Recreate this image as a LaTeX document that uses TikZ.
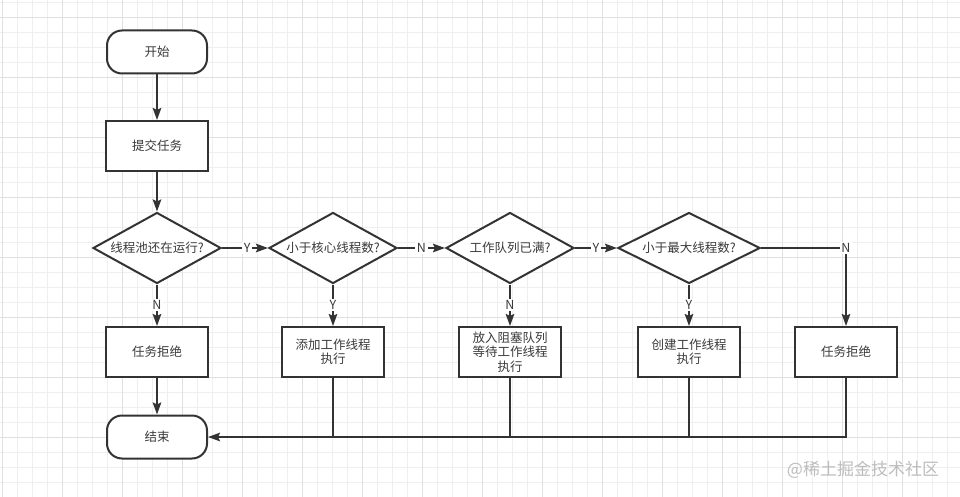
\documentclass[tikz,border=0pt]{standalone}
\usepackage{fontspec}
\setmainfont{Noto Sans CJK SC}
\usepackage{xcolor}
\usetikzlibrary{shapes.geometric,arrows.meta}
\definecolor{linecol}{HTML}{333333}
\definecolor{textcol}{HTML}{3A3A3A}
\definecolor{gridminor}{HTML}{EFEFEF}
\definecolor{gridmajor}{HTML}{E0E0E0}
\definecolor{markcol}{HTML}{BDBDBD}

\begin{document}
\begin{tikzpicture}[x=1pt,y=-1pt,
  every node/.style={font=\fontsize{12.5}{14.5}\selectfont,text=textcol},
  box/.style={draw=linecol,line width=2pt,fill=white,minimum width=102pt,minimum height=50pt,inner sep=0pt,align=center},
  term/.style={box,rounded corners=15pt,minimum width=100pt,minimum height=43pt},
  dec/.style={draw=linecol,line width=2pt,fill=white,diamond,minimum width=128pt,minimum height=71pt,inner sep=0pt},
  lbl/.style={fill=white,inner sep=1.5pt},
  arr/.style={draw=linecol,line width=2pt,-{Stealth[length=12pt,width=8.5pt,inset=2pt]}},
  lin/.style={draw=linecol,line width=2pt}]
  \useasboundingbox (0,0) rectangle (960,497);
  \fill[white] (0,0) rectangle (960,497);
  %
  \foreach \x in {2.3,17.3,...,960} \draw[gridminor,line width=1pt] (\x,0) -- (\x,497);
  \foreach \y in {2.3,17.3,...,497} \draw[gridminor,line width=1pt] (0,\y) -- (960,\y);
  \foreach \x in {2.3,62.3,...,960} \draw[gridmajor,line width=1pt] (\x,0) -- (\x,497);
  \foreach \y in {17.3,77.3,...,497} \draw[gridmajor,line width=1pt] (0,\y) -- (960,\y);
  %
  \node[term] (start) at (157,52) {开始};
  \node[box] (submit) at (157,146) {提交任务};
  %
  \node[dec,label=center:{线程池还在运行?}] (running) at (157,248) {};
  \node[dec,label=center:{小于核心线程数?}] (core) at (333,248) {};
  \node[dec,label=center:{工作队列已满?}] (full) at (510,248) {};
  \node[dec,minimum width=142pt,label=center:{小于最大线程数?}] (max) at (689,248) {};
  %
  \node[box] (reject1) at (157,352) {任务拒绝};
  \node[box] (addcore) at (333,352) {添加工作线程\\执行};
  \node[box] (queue) at (510,352) {放入阻塞队列\\等待工作线程\\执行};
  \node[box] (addmax) at (689,352) {创建工作线程\\执行};
  \node[box] (reject2) at (846,352) {任务拒绝};
  \node[term] (end) at (157,437) {结束};
  %
  \node[text=markcol,font=\fontsize{17}{17}\selectfont] (mark) at (863,470) {@稀土掘金技术社区};
  %
  \draw[arr] (start) -- (submit);
  \draw[arr] (submit) -- (running);
  \draw[arr] (running) -- node[lbl,pos=0.55] {Y} (core);
  \draw[arr] (core) -- node[lbl] {N} (full);
  \draw[arr] (full) -- node[lbl] {Y} (max);
  \draw[arr] (max.east) -| node[lbl,pos=0.5] {N} (reject2.north);
  %
  \draw[arr] (running) -- node[lbl] {N} (reject1);
  \draw[arr] (core) -- node[lbl] {Y} (addcore);
  \draw[arr] (full) -- node[lbl] {N} (queue);
  \draw[arr] (max) -- node[lbl] {Y} (addmax);
  %
  \draw[arr] (reject1) -- (end);
  \draw[arr] (reject2.south) |- (end.east);
  \draw[lin] (addcore.south) -- (addcore.south |- end.east);
  \draw[lin] (queue.south) -- (queue.south |- end.east);
  \draw[lin] (addmax.south) -- (addmax.south |- end.east);
\end{tikzpicture}
\end{document}
